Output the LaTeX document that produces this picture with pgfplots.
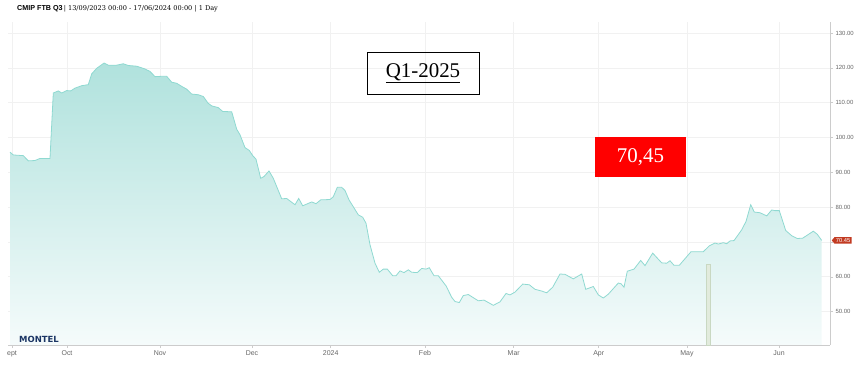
\documentclass[border=0pt]{standalone}
\usepackage{fontspec}
\setmainfont{Liberation Sans}
\newfontfamily\tserif{Liberation Serif}
\newfontfamily\gserif{DejaVu Serif}
\newfontfamily\logofont{DejaVu Sans}
\usepackage{pgfplots}
\pgfplotsset{compat=1.18}
\usetikzlibrary{shapes.symbols}
\definecolor{linec}{HTML}{8FD9D1}
\definecolor{filltop}{HTML}{B0E2DD}
\definecolor{fillbot}{HTML}{F5FBFB}
\definecolor{gridc}{HTML}{F1F1F1}
\definecolor{axc}{HTML}{CCCCCC}
\definecolor{tickl}{HTML}{666666}
\definecolor{lastc}{HTML}{C23B22}
\definecolor{barf}{HTML}{E2EBDD}
\definecolor{bard}{HTML}{C9D8C2}
\definecolor{montel}{HTML}{1B3564}
\begin{document}
\begin{tikzpicture}
\useasboundingbox (0,0) rectangle (855bp,368bp);
\begin{axis}[
  at={(8bp,23bp)}, anchor=south west,
  width=822bp, height=323bp, scale only axis,
  xmin=8, xmax=830, ymin=40.4, ymax=133.2,
  axis x line*=bottom, axis y line*=right,
  axis line style={axc, line width=0.6pt},
  xtick={12,67,160,252,330.7,425,513.7,598.7,687,779},
  xticklabels={ept,Oct,Nov,Dec,2024,Feb,Mar,Apr,May,Jun},
  ytick={50,60,70,80,90,100,110,120,130},
  yticklabels={50.00,60.00,,80.00,90.00,100.00,110.00,120.00,130.00},
  yticklabel style={font=\fontsize{6}{7}\selectfont, text=tickl, xshift=-1bp},
  xticklabel style={font=\fontsize{7}{8}\selectfont, text=tickl, yshift=1bp},
  tick style={axc, line width=0.5pt},
  major tick length=3bp,
  tick align=outside,
  grid=major,
  major grid style={gridc, line width=0.6pt},
  clip=false,
]
\addplot[draw=none, top color=filltop, bottom color=fillbot] coordinates {
(10,95.8)(13.3,95.0)(23.3,94.8)(28.3,93.3)(35,93.4)(40,94.0)(50,94.0)(53.3,112.8)(58.3,113.4)(61.7,112.8)(66.7,113.5)(70.7,113.4)(75,114.2)(81.7,114.9)(88.3,115.2)(91.7,118.3)(96.7,119.9)(104,121.4)(108.3,120.8)(116.7,120.8)(123.3,121.2)(128.3,120.7)(136.7,120.5)(145,119.7)(150,119.0)(155,117.5)(161.7,117.6)(166.7,117.6)(171.7,115.9)(176.7,115.6)(181.7,114.7)(186.7,113.9)(191.7,112.5)(198.3,112.3)(203.3,111.8)(208,109.9)(211.7,109.1)(218.3,108.6)(222.7,107.5)(231.7,107.4)(236.7,102.4)(240,100.8)(245,97.1)(249.3,96.3)(252.7,94.8)(256,93.8)(260.7,88.3)(264,88.8)(269,90.4)(273.3,88.3)(281.7,82.4)(286.7,82.5)(295,80.7)(298.7,82.5)(302.7,80.4)(311.7,81.5)(316,81.0)(320.7,82.1)(330,82.2)(333.3,83.0)(337.3,85.7)(341.7,85.7)(345,84.8)(349,82.1)(358.3,77.8)(362.7,77.1)(366,75.4)(370,69.2)(375,63.9)(379.3,61.3)(383.3,62.2)(387.3,62.2)(392.7,60.3)(396,60.3)(400,61.7)(404,61.2)(408.3,62.0)(411.7,61.3)(417.3,61.2)(421.7,62.4)(426,62.2)(429.3,62.6)(434,60.3)(438.3,60.3)(446,57.4)(451.7,54.1)(455,52.9)(459.3,52.6)(463.3,54.6)(468.3,54.9)(473.3,54.0)(478.3,53.1)(484,53.3)(493.3,51.8)(500,52.8)(506,55.2)(510,54.8)(515,55.6)(522.7,57.9)(529.3,57.7)(535,56.4)(541.7,55.9)(546.7,55.4)(552.7,57.0)(560,60.8)(565,60.7)(573.3,59.4)(581.7,60.8)(585.7,56.4)(593.3,57.2)(598.3,54.8)(603.3,53.9)(608.3,55.0)(618.3,58.2)(621,58.0)(624,57.0)(627.3,61.6)(634,62.2)(640.7,64.7)(645,63.2)(652.7,66.8)(661.7,64.0)(666.7,63.9)(670,64.6)(674,63.3)(679.3,63.3)(691,67.2)(703.3,67.2)(709.3,68.9)(715,69.7)(718.3,69.4)(723.3,69.8)(726.7,69.5)(730,70.3)(734,70.4)(741.7,73.5)(746,75.9)(750.7,80.7)(754.3,78.6)(760,78.4)(766.7,77.5)(771.7,79.2)(775,79.0)(779.3,79.0)(785.7,73.3)(791.7,71.8)(797.3,71.0)(802.7,71.1)(813.3,73.1)(817.3,72.2)(821.7,70.45)
} \closedcycle;
\addplot[linec, line width=0.8pt] coordinates {
(10,95.8)(13.3,95.0)(23.3,94.8)(28.3,93.3)(35,93.4)(40,94.0)(50,94.0)(53.3,112.8)(58.3,113.4)(61.7,112.8)(66.7,113.5)(70.7,113.4)(75,114.2)(81.7,114.9)(88.3,115.2)(91.7,118.3)(96.7,119.9)(104,121.4)(108.3,120.8)(116.7,120.8)(123.3,121.2)(128.3,120.7)(136.7,120.5)(145,119.7)(150,119.0)(155,117.5)(161.7,117.6)(166.7,117.6)(171.7,115.9)(176.7,115.6)(181.7,114.7)(186.7,113.9)(191.7,112.5)(198.3,112.3)(203.3,111.8)(208,109.9)(211.7,109.1)(218.3,108.6)(222.7,107.5)(231.7,107.4)(236.7,102.4)(240,100.8)(245,97.1)(249.3,96.3)(252.7,94.8)(256,93.8)(260.7,88.3)(264,88.8)(269,90.4)(273.3,88.3)(281.7,82.4)(286.7,82.5)(295,80.7)(298.7,82.5)(302.7,80.4)(311.7,81.5)(316,81.0)(320.7,82.1)(330,82.2)(333.3,83.0)(337.3,85.7)(341.7,85.7)(345,84.8)(349,82.1)(358.3,77.8)(362.7,77.1)(366,75.4)(370,69.2)(375,63.9)(379.3,61.3)(383.3,62.2)(387.3,62.2)(392.7,60.3)(396,60.3)(400,61.7)(404,61.2)(408.3,62.0)(411.7,61.3)(417.3,61.2)(421.7,62.4)(426,62.2)(429.3,62.6)(434,60.3)(438.3,60.3)(446,57.4)(451.7,54.1)(455,52.9)(459.3,52.6)(463.3,54.6)(468.3,54.9)(473.3,54.0)(478.3,53.1)(484,53.3)(493.3,51.8)(500,52.8)(506,55.2)(510,54.8)(515,55.6)(522.7,57.9)(529.3,57.7)(535,56.4)(541.7,55.9)(546.7,55.4)(552.7,57.0)(560,60.8)(565,60.7)(573.3,59.4)(581.7,60.8)(585.7,56.4)(593.3,57.2)(598.3,54.8)(603.3,53.9)(608.3,55.0)(618.3,58.2)(621,58.0)(624,57.0)(627.3,61.6)(634,62.2)(640.7,64.7)(645,63.2)(652.7,66.8)(661.7,64.0)(666.7,63.9)(670,64.6)(674,63.3)(679.3,63.3)(691,67.2)(703.3,67.2)(709.3,68.9)(715,69.7)(718.3,69.4)(723.3,69.8)(726.7,69.5)(730,70.3)(734,70.4)(741.7,73.5)(746,75.9)(750.7,80.7)(754.3,78.6)(760,78.4)(766.7,77.5)(771.7,79.2)(775,79.0)(779.3,79.0)(785.7,73.3)(791.7,71.8)(797.3,71.0)(802.7,71.1)(813.3,73.1)(817.3,72.2)(821.7,70.45)
};
\addplot[fill=barf, draw=bard, line width=0.6pt] coordinates {(706,40.4)(706,63.5)(710,63.5)(710,40.4)} -- cycle;
\node[signal, signal to=west, signal pointer angle=100, fill=lastc, text=white, inner sep=1.3pt, font=\fontsize{5.8}{6}\selectfont, anchor=west] at (axis cs:831.5,70.45) {70.45};
\end{axis}
% title
\node[anchor=base west, inner sep=0] at (17bp,357bp) {\fontsize{7.2}{8}\selectfont\bfseries CMIP FTB Q3\,\mdseries\gserif\fontsize{6.6}{8}\selectfont| 13/09/2023 00:00 - 17/06/2024 00:00 | 1 Day};
% Q1-2025 box
\node[draw=black, line width=0.8pt, minimum width=112bp, minimum height=42bp, inner sep=0] at (423bp,295bp) {\tserif\fontsize{21}{24}\selectfont\underline{Q1-2025}};
% red box
\node[fill=red, minimum width=91bp, minimum height=40bp, inner sep=0, text=white] at (640.5bp,211bp) {\tserif\fontsize{21}{24}\selectfont 70,45};
% logo
\node[anchor=base west, inner sep=0, text=montel] at (19bp,25.5bp) {\logofont\bfseries\fontsize{8.5}{9}\selectfont MONTEL};
\end{tikzpicture}
\end{document}
